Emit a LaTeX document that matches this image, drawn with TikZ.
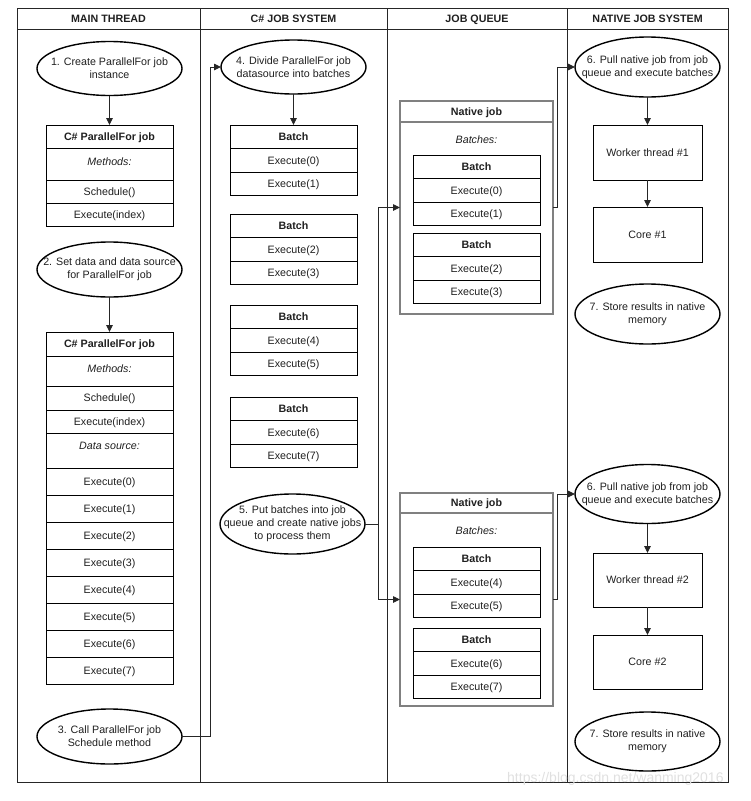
\documentclass[tikz,border=0pt]{standalone}
\usepackage{fontspec}
\setmainfont{Liberation Sans}
\usetikzlibrary{shapes.geometric,arrows.meta}
\newcommand{\basefont}{\fontsize{10.7}{12.8}\selectfont}
\begin{document}
\begin{tikzpicture}[x=1pt,y=-1pt,
  every node/.style={font=\basefont, text=black!88},
  cell/.style={draw=black, line width=0.8pt, anchor=north west, inner sep=0pt, outer sep=0pt, minimum width=127pt, minimum height=#1, text height=7.7pt, text depth=-0.6pt},
  cell/.default=23.5pt,
  hdr/.style={font=\basefont\bfseries},
  lanehdr/.style={font=\basefont\bfseries, text height=7.7pt, text depth=0pt},
  ital/.style={font=\basefont\itshape},
  topish/.style={text height=8pt, text depth=#1},
  ell/.style={ellipse, draw=black, line width=1.4pt, inner xsep=-26pt, inner ysep=0pt, outer sep=0pt, align=center, minimum width=145pt, minimum height=#1},
  ell/.default=56pt,
  wbox/.style={draw=black, line width=0.8pt, anchor=north west, inner sep=0pt, outer sep=0pt, minimum width=109pt, minimum height=#1, text height=7.7pt, text depth=-0.6pt},
  njob/.style={draw=black!50, line width=1.3pt, anchor=north west, inner sep=0pt, outer sep=0pt, minimum width=153pt, minimum height=213pt},
  njhead/.style={draw=black!50, line width=1.3pt, anchor=north west, inner sep=0pt, outer sep=0pt, minimum width=153pt, minimum height=#1, font=\basefont\bfseries, text height=7.7pt, text depth=-0.6pt},
  frame/.style={draw=black!85, line width=0.9pt},
  arr/.style={draw=black!85, line width=0.9pt, -{Triangle[length=7pt,width=6.5pt]}}
]
\useasboundingbox (0,0) rectangle (751,801);

% frame and lanes
\draw[frame] (17,8) rectangle (728,782);
\draw[frame] (17,29) -- (728,29);
\draw[frame] (200,8) -- (200,782);
\draw[frame] (387,8) -- (387,782);
\draw[frame] (567,8) -- (567,782);
\node[lanehdr] (hmain) at (108.5,19) {MAIN THREAD};
\node[lanehdr] (hcs) at (293.5,19) {C\# JOB SYSTEM};
\node[lanehdr] (hq) at (477,19) {JOB QUEUE};
\node[lanehdr] (hnat) at (647.5,19) {NATIVE JOB SYSTEM};

% ---------- MAIN THREAD ----------
\node[ell=54pt] (e1) at (109.5,68.5) {1. Create ParallelFor job\\instance};
\node[cell=23pt, hdr] (mb1h) at (46,125) {C\# ParallelFor job};
\node[cell=32pt, ital, topish=6pt] (mb1m) at (46,148) {Methods:};
\node[cell=23pt] (mb1s) at (46,180) {Schedule()};
\node[cell=23pt] (mb1e) at (46,203) {Execute(index)};

\node[ell=55pt] (e2) at (109.5,269.5) {2. Set data and data source\\for ParallelFor job};
\node[cell=24pt, hdr] (mb2h) at (46,332) {C\# ParallelFor job};
\node[cell=30pt, ital, topish=6pt] (mb2m) at (46,356) {Methods:};
\node[cell=24pt] (mb2s) at (46,386) {Schedule()};
\node[cell=23pt] (mb2e) at (46,410) {Execute(index)};
\node[cell=35pt, ital, topish=11pt] (mb2d) at (46,433) {Data source:};
\foreach \i in {0,...,7}{
  \node[cell=27pt] (mb2r\i) at (46,{468+27*\i}) {Execute(\i)};
}

\node[ell=55pt] (e3) at (109.5,736.5) {3. Call ParallelFor job\\Schedule method};

% ---------- C# JOB SYSTEM ----------
\node[ell=54pt] (e4) at (293.5,67) {4. Divide ParallelFor job\\datasource into batches};
\foreach \t/\a/\b [count=\k] in {125/0/1, 214/2/3, 305/4/5, 397/6/7}{
  \node[cell, hdr] (bh\k) at (230,\t) {Batch};
  \node[cell] (ba\k) at (230,{\t+23.5}) {Execute(\a)};
  \node[cell] (bb\k) at (230,{\t+47}) {Execute(\b)};
}
\node[ell=60pt] (e5) at (292.5,524) {5. Put batches into job\\queue and create native jobs\\to process them};

% ---------- JOB QUEUE ----------
\node[njob] (nj1) at (400,101) {};
\node[njhead=21pt] (nj1h) at (400,101) {Native job};
\node[ital] (nj1l) at (476.5,139.5) {Batches:};
\node[cell, hdr] (q1h) at (413,155) {Batch};
\node[cell] (q1a) at (413,178.5) {Execute(0)};
\node[cell] (q1b) at (413,202) {Execute(1)};
\node[cell, hdr] (q2h) at (413,233) {Batch};
\node[cell] (q2a) at (413,256.5) {Execute(2)};
\node[cell] (q2b) at (413,280) {Execute(3)};

\node[njob] (nj2) at (400,493) {};
\node[njhead=20pt] (nj2h) at (400,493) {Native job};
\node[ital] (nj2l) at (476.5,530.5) {Batches:};
\node[cell, hdr] (q3h) at (413,547) {Batch};
\node[cell] (q3a) at (413,570.5) {Execute(4)};
\node[cell] (q3b) at (413,594) {Execute(5)};
\node[cell, hdr] (q4h) at (413,628) {Batch};
\node[cell] (q4a) at (413,651.5) {Execute(6)};
\node[cell] (q4b) at (413,675) {Execute(7)};

% ---------- NATIVE JOB SYSTEM ----------
\node[ell=60pt] (e6) at (647.5,67) {6. Pull native job from job\\queue and execute batches};
\node[wbox=55pt] (w1) at (593,125) {Worker thread \#1};
\node[wbox=55pt] (c1) at (593,207) {Core \#1};
\node[ell=60pt] (e7) at (647.5,314) {7. Store results in native\\memory};

\node[ell=59pt] (e6b) at (647.5,494) {6. Pull native job from job\\queue and execute batches};
\node[wbox=54pt] (w2) at (593,553) {Worker thread \#2};
\node[wbox=54pt] (c2) at (593,635) {Core \#2};
\node[ell=59pt] (e7b) at (647.5,741.5) {7. Store results in native\\memory};

% ---------- connectors ----------
\draw[arr] (e1.south) -- (mb1h.north);
\draw[arr] (e2.south) -- (mb2h.north);
\draw[arr] (e3.east) -- ++(28,0) |- (e4.west);
\draw[arr] (e4.south) -- (bh1.north);
\draw[arr] (e5.east) -- ++(13,0) |- (nj1.west);
\draw[arr] (e5.east) -- ++(13,0) |- (nj2.west);
\draw[arr] (nj1.east) -- ++(4,0) |- (e6.west);
\draw[arr] (nj2.east) -- ++(4,0) |- (e6b.west);
\draw[arr] (e6.south) -- (w1.north);
\draw[arr] (w1.south) -- (c1.north);
\draw[arr] (e6b.south) -- (w2.north);
\draw[arr] (w2.south) -- (c2.north);

% watermark
\node[font=\fontsize{14}{14}\selectfont, text=black!12, anchor=west, inner sep=0pt] (wm) at (507,779) {https://blog.csdn.net/wanming2016};
\end{tikzpicture}
\end{document}
